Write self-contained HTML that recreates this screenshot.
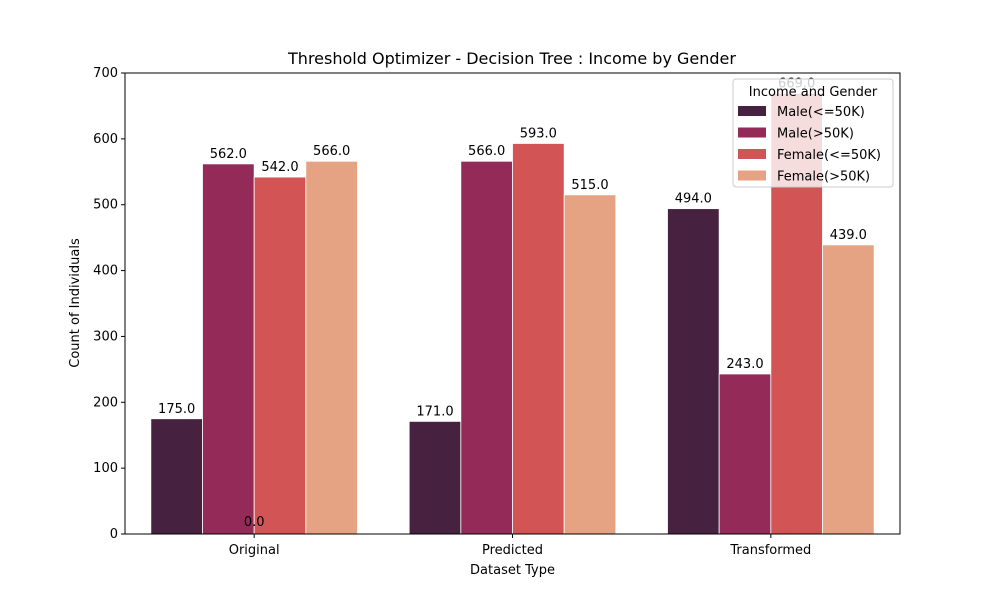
<!DOCTYPE html>
<html><head><meta charset="utf-8"><style>
body{margin:0;background:#fff}
svg text{font-family:"DejaVu Sans","Liberation Sans",sans-serif;fill:#000}
</style></head><body>
<svg id="c" width="1000" height="600" xmlns="http://www.w3.org/2000/svg">
<rect width="1000" height="600" fill="#fff"/>
<text x="512" y="64" text-anchor="middle" font-size="16">Threshold Optimizer - Decision Tree : Income by Gender</text>
<g id="bars"></g>
<g id="axes"></g>
</svg>
<script>
const categories=["Original","Predicted","Transformed"];
const seriesNames=["Male(<=50K)","Male(>50K)","Female(<=50K)","Female(>50K)"];
const maleLow=[175,171,494];
const maleHigh=[562,566,243];
const femaleLow=[542,593,669];
const femaleHigh=[566,515,439];
const yTicks=[0,100,200,300,400,500,600,700];
const colors=["#472240","#932a58","#d35455","#e5a383"];
const series=[maleLow,maleHigh,femaleLow,femaleHigh];
const L=125,R=900,T=73,B=534,ymax=700;
const NS="http://www.w3.org/2000/svg";
const y=v=>B-(v/ymax)*(B-T);
const step=(R-L)/categories.length;
const xc=i=>L+step*(i+0.5);
const bw=step*0.8/4;
function mk(tag,attrs,parent,text){const e=document.createElementNS(NS,tag);for(const k in attrs)e.setAttribute(k,attrs[k]);if(text!==undefined)e.textContent=text;parent.appendChild(e);return e;}
const bars=document.getElementById('bars'),axes=document.getElementById('axes');
series.forEach((s,j)=>{s.forEach((v,i)=>{
 const x0=xc(i)-step*0.4+j*bw;
 const r=mk('rect',{x:x0,y:y(v),width:bw,height:B-y(v),fill:colors[j],stroke:'#fff','stroke-width':0.8},bars);
 
 
 const t=mk('text',{x:x0+bw/2,y:y(v)-6,'text-anchor':'middle','font-size':13},bars,v.toFixed(1));
 
 
});});
const z=mk('text',{x:xc(0),y:B-8,'text-anchor':'middle','font-size':13},bars,'0.0');


mk('rect',{x:L,y:T,width:R-L,height:B-T,fill:'none',stroke:'#000','stroke-width':1},axes);
yTicks.forEach(v=>{mk('line',{x1:L-4,x2:L,y1:y(v),y2:y(v),stroke:'#000'},axes);
 const t=mk('text',{x:L-7,y:y(v)+4,'text-anchor':'end','font-size':13},axes,v);
 
 });
categories.forEach((c,i)=>{mk('line',{x1:xc(i),x2:xc(i),y1:B,y2:B+4,stroke:'#000'},axes);
 const t=mk('text',{x:xc(i),y:B+20,'text-anchor':'middle','font-size':13},axes,c);
 
 });
const xt=mk('text',{x:(L+R)/2,y:574,'text-anchor':'middle','font-size':13},axes,'Dataset Type');


const yt=mk('text',{x:0,y:0,'text-anchor':'middle','font-size':13,transform:'translate(79,303) rotate(-90)'},axes,'Count of Individuals');


const lg=mk('g',{},axes);


mk('rect',{x:733,y:79,width:160,height:108,rx:3,fill:'#fff','fill-opacity':0.8,stroke:'#ccc'},lg);
mk('text',{x:813,y:96,'text-anchor':'middle','font-size':13},lg,'Income and Gender');
seriesNames.forEach((n,j)=>{const yy=111+j*21.5;
 const e=mk('g',{},lg);
 
 
 mk('rect',{x:738,y:yy-5,width:28,height:10,fill:colors[j]},e);
 mk('text',{x:777,y:yy+5,'font-size':13},e,n);});
</script>
</body></html>
